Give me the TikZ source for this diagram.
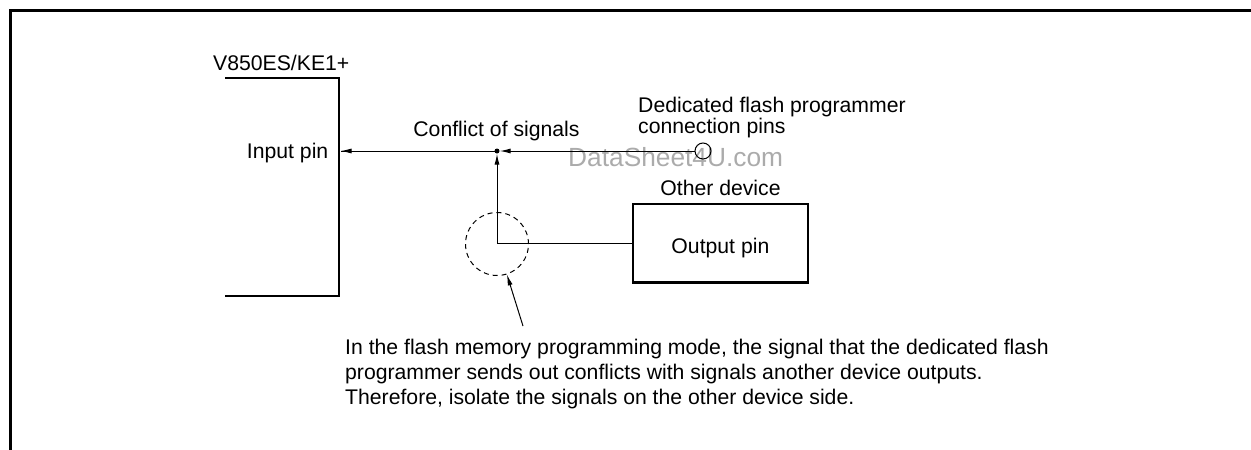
\documentclass[tikz,border=0pt]{standalone}
\usepackage{fontspec}
\setmainfont{Liberation Sans}
\usetikzlibrary{arrows.meta}
\begin{document}
\begin{tikzpicture}[x=1pt,y=-1pt,
  txt/.style={inner sep=0pt, font=\fontsize{21.2}{25}\selectfont},
  thin line/.style={line width=1pt},
  arr/.style={line width=1pt, -{Latex[length=11pt,width=5pt]}},
  thickline/.style={line width=2.8pt},
  wm/.style={inner sep=0pt, text=black!33, font=\fontsize{26.3}{30}\selectfont}]
\useasboundingbox (0,0) rectangle (1251,450);
% frame
\draw[line width=3pt] (10,450) -- (10,10.5) -- (1251,10.5);
% watermark
\node[wm, anchor=base west] (wmk) at (568,166) {DataSheet4U.com};
% microcontroller bracket
\coordinate (bt) at (339,78);
\coordinate (bb) at (339,296);
\draw[thickline] (225,78) -- (bt) -- (bb) -- (225,296);
\node[txt, anchor=base west] (mcu) at (213,70.5) {V850ES/KE1+};
\node[txt, anchor=base east] (inp) at (328.5,158) {Input pin};
\coordinate (inpin) at (340.5,151);
% junction
\node[circle, fill, inner sep=0pt, minimum size=5pt] (j) at (497,151) {};
\node[txt, anchor=base] (conf) at (496.5,136) {Conflict of signals};
% programmer pin
\node[circle, draw, thin line, inner sep=0pt, minimum size=16pt] (cp) at (703,151) {};
\node[txt, anchor=base west] (ded1) at (638,112) {Dedicated flash programmer};
\node[txt, anchor=base west] (ded2) at (638,133) {connection pins};
% other device
\node[draw, thickline, minimum width=175pt, minimum height=78.5pt, inner sep=0pt,
      text height=19.4pt, text depth=0pt, font=\fontsize{21.2}{25}\selectfont] (box) at (720.4,243.3) {Output pin};
\node[txt, anchor=base] (oth) at (720.5,195) {Other device};
% connectors
\draw[thin line] (j.west) -- (inpin);
\draw[arr] (j.center) -- (inpin);
\draw[arr] (cp.west) -- (j.east);
\draw[arr] (box.west) -| (j.south);
% isolation circle
\node[circle, draw, thin line, dash pattern=on 5pt off 4pt, minimum size=63pt, inner sep=0pt] (iso) at (497,244) {};
\coordinate (ptail) at (523,326);
\draw[arr] (ptail) -- (iso.-72);
% note
\node[txt, anchor=base west] (n1) at (345,354) {In the flash memory programming mode, the signal that the dedicated flash};
\node[txt, anchor=base west] (n2) at (345,379) {programmer sends out conflicts with signals another device outputs.};
\node[txt, anchor=base west] (n3) at (345,404) {Therefore, isolate the signals on the other device side.};
\end{tikzpicture}
\end{document}
